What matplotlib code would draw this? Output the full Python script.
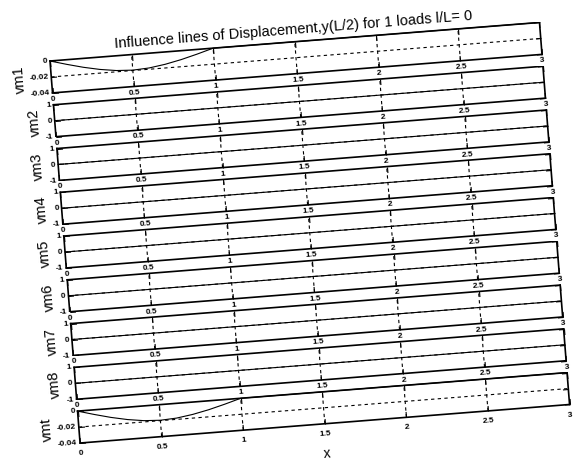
import numpy as np
import matplotlib
matplotlib.use('Agg')
import matplotlib.pyplot as plt
from matplotlib.transforms import Affine2D
import mpl_toolkits.axisartist.floating_axes as floating_axes
from mpl_toolkits.axisartist.grid_finder import FixedLocator, DictFormatter

plt.rcParams['font.family'] = ['Liberation Sans', 'DejaVu Sans']

# load position along the beam
x_pos = [0, 0.1, 0.2, 0.3, 0.4, 0.5, 0.6, 0.7, 0.8, 0.9, 1.0, 1.5, 2.0, 2.5, 3.0]

# midspan displacement per mode and total
vm1 = [0, -0.0058, -0.0111, -0.0154, -0.0184, -0.0195, -0.0184, -0.0154, -0.0111, -0.0058, 0, 0, 0, 0, 0]
vm2 = [0, 0, 0, 0, 0, 0, 0, 0, 0, 0, 0, 0, 0, 0, 0]
vm3 = [0, 0, 0, 0, 0, 0, 0, 0, 0, 0, 0, 0, 0, 0, 0]
vm4 = [0, 0, 0, 0, 0, 0, 0, 0, 0, 0, 0, 0, 0, 0, 0]
vm5 = [0, 0, 0, 0, 0, 0, 0, 0, 0, 0, 0, 0, 0, 0, 0]
vm6 = [0, 0, 0, 0, 0, 0, 0, 0, 0, 0, 0, 0, 0, 0, 0]
vm7 = [0, 0, 0, 0, 0, 0, 0, 0, 0, 0, 0, 0, 0, 0, 0]
vm8 = [0, 0, 0, 0, 0, 0, 0, 0, 0, 0, 0, 0, 0, 0, 0]
vmt = [0, -0.0058, -0.0111, -0.0154, -0.0184, -0.0195, -0.0184, -0.0154, -0.0111, -0.0058, 0, 0, 0, 0, 0]

panel_names = ['vm1', 'vm2', 'vm3', 'vm4', 'vm5', 'vm6', 'vm7', 'vm8', 'vmt']
panel_values = [vm1, vm2, vm3, vm4, vm5, vm6, vm7, vm8, vmt]

x_ticks = [0, 0.5, 1, 1.5, 2, 2.5, 3]
x_tick_labels = ['0', '0.5', '1', '1.5', '2', '2.5', '3']
small_ticks = [-0.04, -0.02, 0]
small_tick_labels = ['-0.04', '-0.02', '0']
unit_ticks = [-1, 0, 1]
unit_tick_labels = ['-1', '0', '1']

title = 'Influence lines of Displacement,y(L/2) for 1 loads l/L= 0'

# page layout in pixels (the printed sheet sits slightly tilted)
FW, FH = 578, 461
ANG = 4.5
W, H, PITCH = 491.0, 32.0, 43.9
X0, Y0 = 50.0, 61.0
c, s = np.cos(np.radians(ANG)), np.sin(np.radians(ANG))

fig = plt.figure(figsize=(FW / 100, FH / 100), dpi=100)

for i, (name, vals) in enumerate(zip(panel_names, panel_values)):
    if name in ('vm1', 'vmt'):
        ylo, yhi = -0.04, 0
        yt, ytl = small_ticks, small_tick_labels
    else:
        ylo, yhi = -1, 1
        yt, ytl = unit_ticks, unit_tick_labels

    # top-left corner of this panel, then bounding box of the tilted frame
    tlx = X0 + PITCH * i * s
    tly = Y0 + PITCH * i * c
    left, right = tlx, tlx + W * c + H * s
    top, bottom = tly - W * s, tly + H * c
    cx, cy = (left + right) / 2, (top + bottom) / 2
    bw, bh = (right - left) * 1.02, (bottom - top) * 1.02
    rect = [(cx - bw / 2) / FW, 1 - (cy + bh / 2) / FH, bw / FW, bh / FH]

    tr = Affine2D().scale(W / 3, H / (yhi - ylo)).rotate_deg(ANG)
    helper = floating_axes.GridHelperCurveLinear(
        tr, extremes=(0, 3, ylo, yhi),
        grid_locator1=FixedLocator(x_ticks),
        grid_locator2=FixedLocator(yt),
        tick_formatter1=DictFormatter(dict(zip(x_ticks, x_tick_labels))),
        tick_formatter2=DictFormatter(dict(zip(yt, ytl))))
    ax = fig.add_axes(rect, axes_class=floating_axes.FloatingAxes,
                      grid_helper=helper)

    aux = ax.get_aux_axes(tr)
    aux.plot(x_pos, vals, color='k', lw=0.8)

    ax.grid(True, color='k', linestyle=(0, (3, 3)), linewidth=0.8)
    for side in ('top', 'right'):
        ax.axis[side].toggle(ticklabels=False, label=False)
    ax.axis[:].line.set_linewidth(1.2)
    ax.axis[:].major_ticks.set_ticksize(4)
    ax.axis[:].major_ticklabels.set_fontsize(6)
    ax.axis[:].major_ticklabels.set_fontweight('bold')
    ax.axis['bottom'].major_ticklabels.set_pad(2)
    ax.axis['left'].major_ticklabels.set_pad(2)
    ax.axis['left'].label.set_text(name)
    ax.axis['left'].label.set_fontsize(10.5)
    ax.axis['left'].label.set_pad(2)
    if name == 'vmt':
        ax.axis['bottom'].major_ticklabels.set_pad(5)
        ax.axis['bottom'].label.set_text('x')
        ax.axis['bottom'].label.set_fontsize(10)
        ax.axis['bottom'].label.set_pad(8)

# title above the first panel, following the tilt
tx = X0 + W / 2 * c - 8 * s
ty = Y0 - W / 2 * s - 8 * c
fig.text(tx / FW, 1 - ty / FH, title, rotation=ANG, rotation_mode='anchor',
         ha='center', va='baseline', fontsize=10.5)

fig.savefig('out.png', dpi=100)
